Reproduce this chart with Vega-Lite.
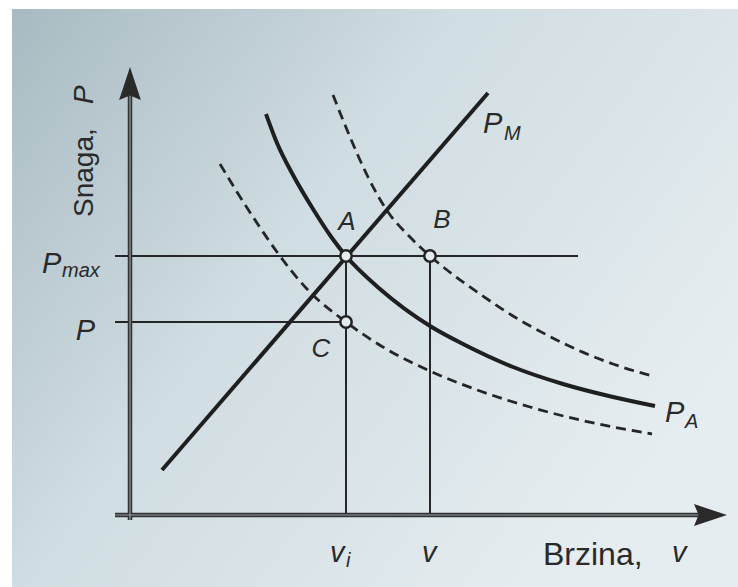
{
  "$schema": "https://vega.github.io/schema/vega-lite/v6.json",
  "width": 726,
  "height": 578,
  "autosize": {"type": "none"},
  "padding": {"left": 12, "top": 9, "right": 0, "bottom": 0},
  "background": "#ffffff",
  "config": {"view": {"stroke": null}, "text": {"font": "Liberation Sans", "color": "#2a2a2a"}},
  "datasets": {
    "curves": [
      {"curve": "PA", "v": 136, "P": 401}, {"curve": "PA", "v": 147, "P": 372}, {"curve": "PA", "v": 163, "P": 340},
      {"curve": "PA", "v": 183, "P": 306}, {"curve": "PA", "v": 202, "P": 277}, {"curve": "PA", "v": 216, "P": 259},
      {"curve": "PA", "v": 250, "P": 226}, {"curve": "PA", "v": 300, "P": 189}, {"curve": "PA", "v": 333, "P": 171},
      {"curve": "PA", "v": 383, "P": 148}, {"curve": "PA", "v": 433, "P": 131}, {"curve": "PA", "v": 483, "P": 118},
      {"curve": "PA", "v": 525, "P": 109},
      {"curve": "PM", "v": 32, "P": 45}, {"curve": "PM", "v": 358, "P": 422},
      {"curve": "upper", "v": 203, "P": 420}, {"curve": "upper", "v": 220, "P": 378}, {"curve": "upper", "v": 237, "P": 340},
      {"curve": "upper", "v": 258, "P": 303}, {"curve": "upper", "v": 280, "P": 278}, {"curve": "upper", "v": 300, "P": 259},
      {"curve": "upper", "v": 317, "P": 245}, {"curve": "upper", "v": 350, "P": 221}, {"curve": "upper", "v": 383, "P": 199},
      {"curve": "upper", "v": 417, "P": 180}, {"curve": "upper", "v": 450, "P": 164}, {"curve": "upper", "v": 483, "P": 151},
      {"curve": "upper", "v": 522, "P": 139},
      {"curve": "lower", "v": 90, "P": 351}, {"curve": "lower", "v": 107, "P": 323}, {"curve": "lower", "v": 127, "P": 292},
      {"curve": "lower", "v": 147, "P": 263}, {"curve": "lower", "v": 177, "P": 226}, {"curve": "lower", "v": 216, "P": 193},
      {"curve": "lower", "v": 258, "P": 165}, {"curve": "lower", "v": 300, "P": 144}, {"curve": "lower", "v": 350, "P": 124},
      {"curve": "lower", "v": 400, "P": 108}, {"curve": "lower", "v": 450, "P": 95}, {"curve": "lower", "v": 522, "P": 81}
    ],
    "segments": [
      {"kind": "axis", "v": -15, "P": 0, "v2": 585, "P2": 0},
      {"kind": "axis", "v": 0, "P": -5, "v2": 0, "P2": 435},
      {"kind": "guide", "v": -15, "P": 259, "v2": 448, "P2": 259},
      {"kind": "guide", "v": -15, "P": 193, "v2": 216, "P2": 193},
      {"kind": "guide", "v": 216, "P": 0, "v2": 216, "P2": 259},
      {"kind": "guide", "v": 300, "P": 0, "v2": 300, "P2": 259}
    ],
    "points": [
      {"name": "A", "v": 216, "P": 259},
      {"name": "B", "v": 300, "P": 259},
      {"name": "C", "v": 216, "P": 193}
    ],
    "arrows": [
      {"axis": "y", "v": 0, "P": 431.5},
      {"axis": "x", "v": 580.5, "P": 0}
    ],
    "labels": [
      {"role": "pt", "text": "A", "v": 217, "P": 293},
      {"role": "pt", "text": "B", "v": 312, "P": 295},
      {"role": "pt", "text": "C", "v": 191, "P": 166},
      {"role": "symL", "text": "P", "v": -88, "P": 242},
      {"role": "symR", "text": "P", "v": -35, "P": 175},
      {"role": "symL", "text": "P", "v": 353, "P": 382},
      {"role": "symL", "text": "P", "v": 535, "P": 93},
      {"role": "symL", "text": "v", "v": 200, "P": -47},
      {"role": "symL", "text": "v", "v": 292, "P": -47},
      {"role": "symL", "text": "v", "v": 542, "P": -47},
      {"role": "sub", "text": "max", "v": -68, "P": 238},
      {"role": "sub", "text": "M", "v": 374, "P": 375},
      {"role": "sub", "text": "A", "v": 555, "P": 87},
      {"role": "sub", "text": "i", "v": 216, "P": -52},
      {"role": "title", "text": "Brzina,", "v": 413, "P": -50},
      {"role": "ytitle", "text": "Snaga,", "v": -37, "P": 298},
      {"role": "ytitlesym", "text": "P", "v": -37, "P": 411}
    ]
  },
  "layer": [
    {
      "data": {"values": [{}]},
      "mark": {"type": "rect", "fill": {"gradient": "linear", "x1": 0, "y1": 0, "x2": 1, "y2": 0.6,
        "stops": [{"offset": 0, "color": "#a8bac1"}, {"offset": 0.45, "color": "#d0dde2"}, {"offset": 1, "color": "#e6edf0"}]}},
      "encoding": {}
    },
    {
      "data": {"name": "segments"},
      "transform": [{"filter": "datum.kind === 'guide'"}],
      "mark": {"type": "rule", "color": "#262626", "strokeWidth": 2},
      "encoding": {
        "x": {"field": "v", "type": "quantitative", "scale": {"domain": [-118, 608], "nice": false, "zero": false}, "axis": null},
        "y": {"field": "P", "type": "quantitative", "scale": {"domain": [-72, 506], "nice": false, "zero": false}, "axis": null},
        "x2": {"field": "v2"},
        "y2": {"field": "P2"}
      }
    },
    {
      "data": {"name": "segments"},
      "transform": [{"filter": "datum.kind === 'axis'"}],
      "mark": {"type": "rule", "color": "#333333", "strokeWidth": 4.5},
      "encoding": {
        "x": {"field": "v", "type": "quantitative", "scale": {"domain": [-118, 608], "nice": false, "zero": false}, "axis": null},
        "y": {"field": "P", "type": "quantitative", "scale": {"domain": [-72, 506], "nice": false, "zero": false}, "axis": null},
        "x2": {"field": "v2"},
        "y2": {"field": "P2"}
      }
    },
    {
      "data": {"name": "segments"},
      "transform": [{"filter": "datum.kind === 'axis'"}],
      "mark": {"type": "rule", "color": "#8f9ca1", "strokeWidth": 1.2},
      "encoding": {
        "x": {"field": "v", "type": "quantitative", "scale": {"domain": [-118, 608], "nice": false, "zero": false}, "axis": null},
        "y": {"field": "P", "type": "quantitative", "scale": {"domain": [-72, 506], "nice": false, "zero": false}, "axis": null},
        "x2": {"field": "v2"},
        "y2": {"field": "P2"}
      }
    },
    {
      "data": {"name": "curves"},
      "transform": [{"filter": "datum.curve === 'upper' || datum.curve === 'lower'"}],
      "mark": {"type": "line", "color": "#262626", "strokeWidth": 2.8, "strokeDash": [10, 6], "interpolate": "monotone"},
      "encoding": {
        "x": {"field": "v", "type": "quantitative", "scale": {"domain": [-118, 608], "nice": false, "zero": false}, "axis": null},
        "y": {"field": "P", "type": "quantitative", "scale": {"domain": [-72, 506], "nice": false, "zero": false}, "axis": null},
        "detail": {"field": "curve"},
        "order": {"field": "v"}
      }
    },
    {
      "data": {"name": "curves"},
      "transform": [{"filter": "datum.curve === 'PA' || datum.curve === 'PM'"}],
      "mark": {"type": "line", "color": "#1f1f1f", "strokeWidth": 4, "interpolate": "monotone"},
      "encoding": {
        "x": {"field": "v", "type": "quantitative", "scale": {"domain": [-118, 608], "nice": false, "zero": false}, "axis": null},
        "y": {"field": "P", "type": "quantitative", "scale": {"domain": [-72, 506], "nice": false, "zero": false}, "axis": null},
        "detail": {"field": "curve"},
        "order": {"field": "v"}
      }
    },
    {
      "data": {"name": "points"},
      "mark": {"type": "point", "shape": "circle", "filled": true, "fill": "#e4ebee", "stroke": "#222222", "strokeWidth": 2.5, "size": 130, "opacity": 1},
      "encoding": {
        "x": {"field": "v", "type": "quantitative", "scale": {"domain": [-118, 608], "nice": false, "zero": false}, "axis": null},
        "y": {"field": "P", "type": "quantitative", "scale": {"domain": [-72, 506], "nice": false, "zero": false}, "axis": null}
      }
    },
    {
      "data": {"name": "arrows"},
      "transform": [{"filter": "datum.axis === 'y'"}],
      "mark": {"type": "point", "shape": "M0,-1L0.66,1L0,0.72L-0.66,1Z", "filled": true, "color": "#2a2a2a", "size": 1089, "opacity": 1},
      "encoding": {
        "x": {"field": "v", "type": "quantitative", "scale": {"domain": [-118, 608], "nice": false, "zero": false}, "axis": null},
        "y": {"field": "P", "type": "quantitative", "scale": {"domain": [-72, 506], "nice": false, "zero": false}, "axis": null}
      }
    },
    {
      "data": {"name": "arrows"},
      "transform": [{"filter": "datum.axis === 'x'"}],
      "mark": {"type": "point", "shape": "M0,-1L0.66,1L0,0.72L-0.66,1Z", "filled": true, "color": "#2a2a2a", "size": 1089, "opacity": 1, "angle": 90},
      "encoding": {
        "x": {"field": "v", "type": "quantitative", "scale": {"domain": [-118, 608], "nice": false, "zero": false}, "axis": null},
        "y": {"field": "P", "type": "quantitative", "scale": {"domain": [-72, 506], "nice": false, "zero": false}, "axis": null}
      }
    },
    {
      "data": {"name": "labels"},
      "transform": [{"filter": "datum.role === 'pt'"}],
      "mark": {"type": "text", "fontSize": 26, "fontStyle": "italic", "align": "center", "baseline": "middle"},
      "encoding": {
        "x": {"field": "v", "type": "quantitative", "scale": {"domain": [-118, 608], "nice": false, "zero": false}, "axis": null},
        "y": {"field": "P", "type": "quantitative", "scale": {"domain": [-72, 506], "nice": false, "zero": false}, "axis": null},
        "text": {"field": "text"}
      }
    },
    {
      "data": {"name": "labels"},
      "transform": [{"filter": "datum.role === 'symL'"}],
      "mark": {"type": "text", "fontSize": 29, "fontStyle": "italic", "align": "left", "baseline": "alphabetic"},
      "encoding": {
        "x": {"field": "v", "type": "quantitative", "scale": {"domain": [-118, 608], "nice": false, "zero": false}, "axis": null},
        "y": {"field": "P", "type": "quantitative", "scale": {"domain": [-72, 506], "nice": false, "zero": false}, "axis": null},
        "text": {"field": "text"}
      }
    },
    {
      "data": {"name": "labels"},
      "transform": [{"filter": "datum.role === 'symR'"}],
      "mark": {"type": "text", "fontSize": 29, "fontStyle": "italic", "align": "right", "baseline": "alphabetic"},
      "encoding": {
        "x": {"field": "v", "type": "quantitative", "scale": {"domain": [-118, 608], "nice": false, "zero": false}, "axis": null},
        "y": {"field": "P", "type": "quantitative", "scale": {"domain": [-72, 506], "nice": false, "zero": false}, "axis": null},
        "text": {"field": "text"}
      }
    },
    {
      "data": {"name": "labels"},
      "transform": [{"filter": "datum.role === 'sub'"}],
      "mark": {"type": "text", "fontSize": 20, "fontStyle": "italic", "align": "left", "baseline": "alphabetic"},
      "encoding": {
        "x": {"field": "v", "type": "quantitative", "scale": {"domain": [-118, 608], "nice": false, "zero": false}, "axis": null},
        "y": {"field": "P", "type": "quantitative", "scale": {"domain": [-72, 506], "nice": false, "zero": false}, "axis": null},
        "text": {"field": "text"}
      }
    },
    {
      "data": {"name": "labels"},
      "transform": [{"filter": "datum.role === 'title'"}],
      "mark": {"type": "text", "fontSize": 32, "align": "left", "baseline": "alphabetic"},
      "encoding": {
        "x": {"field": "v", "type": "quantitative", "scale": {"domain": [-118, 608], "nice": false, "zero": false}, "axis": null},
        "y": {"field": "P", "type": "quantitative", "scale": {"domain": [-72, 506], "nice": false, "zero": false}, "axis": null},
        "text": {"field": "text"}
      }
    },
    {
      "data": {"name": "labels"},
      "transform": [{"filter": "datum.role === 'ytitle'"}],
      "mark": {"type": "text", "fontSize": 28, "align": "left", "baseline": "alphabetic", "angle": 270},
      "encoding": {
        "x": {"field": "v", "type": "quantitative", "scale": {"domain": [-118, 608], "nice": false, "zero": false}, "axis": null},
        "y": {"field": "P", "type": "quantitative", "scale": {"domain": [-72, 506], "nice": false, "zero": false}, "axis": null},
        "text": {"field": "text"}
      }
    },
    {
      "data": {"name": "labels"},
      "transform": [{"filter": "datum.role === 'ytitlesym'"}],
      "mark": {"type": "text", "fontSize": 28, "fontStyle": "italic", "align": "left", "baseline": "alphabetic", "angle": 270},
      "encoding": {
        "x": {"field": "v", "type": "quantitative", "scale": {"domain": [-118, 608], "nice": false, "zero": false}, "axis": null},
        "y": {"field": "P", "type": "quantitative", "scale": {"domain": [-72, 506], "nice": false, "zero": false}, "axis": null},
        "text": {"field": "text"}
      }
    }
  ]
}
